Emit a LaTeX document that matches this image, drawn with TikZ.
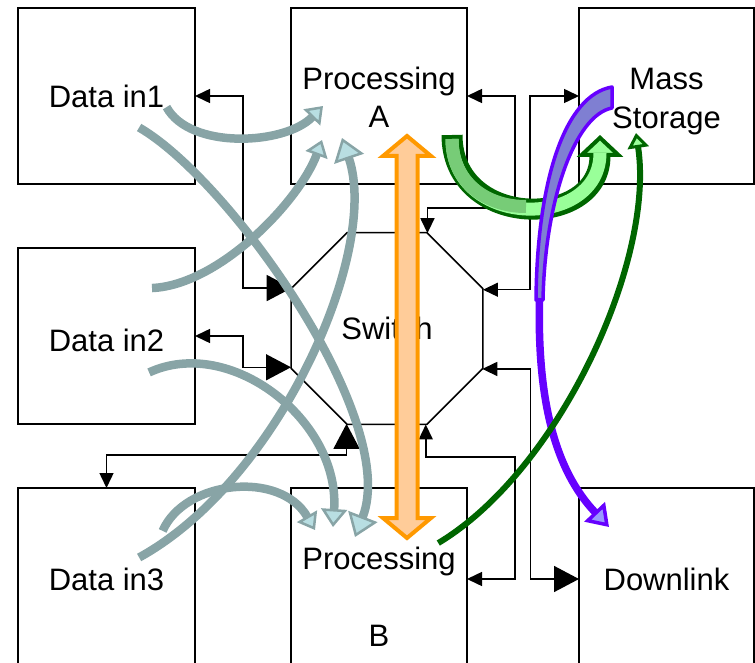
\documentclass[tikz,border=0pt]{standalone}
\usepackage{fontspec}
\setmainfont{Liberation Sans}
\usetikzlibrary{arrows.meta,shapes.geometric}
\definecolor{gout}{HTML}{88A4A6}
\definecolor{gin}{HTML}{B8DEE2}
\definecolor{gdk}{HTML}{006600}
\definecolor{gmid}{HTML}{77CC77}
\definecolor{glt}{HTML}{99FF99}
\definecolor{pur}{HTML}{6600FF}
\definecolor{purf}{HTML}{7F7FD2}
\definecolor{purl}{HTML}{9999FF}
\definecolor{orO}{HTML}{FF9900}
\definecolor{orF}{HTML}{FFCC99}
\tikzset{
  smtip/.tip={Triangle[length=15pt,width=14pt]},
  bigtip/.tip={Triangle[length=25pt,width=26pt]},
  box/.style={draw, line width=1.6pt, inner sep=0pt, outer sep=0pt, align=center,
    font=\fontsize{31}{38.5}\selectfont},
  conn/.style={line width=1.5pt},
  garr/.style 2 args={draw=gout, line width=8.5pt, shorten <=-1pt,
      -{Triangle[length=#1, width=#2, fill=gin, line width=2.5pt]}},
}
\begin{document}
\begin{tikzpicture}[x=1pt,y=-1pt]
\useasboundingbox (0,0) rectangle (755,663);
\clip (0,0) rectangle (755,663);
% boxes
\node[box, minimum width=177pt, minimum height=176pt] (d1) at (106.5,96) {Data in1};
\node[box, minimum width=177pt, minimum height=176pt, text height=31pt] (d2) at (106.5,336) {Data in2};
\node[box, minimum width=177pt, minimum height=182pt] (d3) at (106.5,579) {Data in3};
\node[box, minimum width=176pt, minimum height=176pt, text height=64pt] (pa) at (379,96) {Processing\\A};
\node[box, minimum width=176pt, minimum height=218pt] (pb) at (379,597) {Processing\\[38.5pt]B};
\node[box, minimum width=175pt, minimum height=176pt, text height=70.5pt] (ms) at (666.5,96) {Mass\\Storage};
\node[box, minimum width=175pt, minimum height=182pt] (dl) at (666.5,579) {Downlink};
% switch
\node[draw, line width=1.5pt, regular polygon, regular polygon sides=8, minimum size=207.8pt,
  inner sep=0pt, outer sep=0pt, font=\fontsize{31}{38.5}\selectfont] (sw) at (387,328.5) {Switch};
% connectors
\draw[conn, {smtip}-{bigtip}] (d1.east) -- ++(48,0) |- (sw.157.5);
\draw[conn, {smtip}-{bigtip}] (d2.east) -- ++(48,0) |- (sw.202.5);
\draw[conn, {bigtip}-{smtip}] (sw.247.5) -- ++(0,31) -| (d3.north);
\draw[conn, {smtip}-{smtip}] (pa.east) -- ++(48,0) -- ++(0,112) -| (sw.67.5);
\draw[conn, {smtip}-{smtip}] (ms.west) -- ++(-49,0) |- (sw.22.5);
\draw[conn, {smtip}-{bigtip}] (sw.337.5) -- ++(48,0) |- (dl.west);
\draw[conn, {smtip}-{smtip}] (pb.east |- dl.west) -- ++(48,0) -- ++(0,-122) -| (sw.292.5);
% gray curved arrows
\draw[garr={16pt}{23pt}] (167,108) .. controls (190,150) and (285,145) .. (323,106);
\draw[garr={22pt}{31pt}] (140,128) .. controls (230,180) and (400,420) .. (355,537);
\draw[garr={16pt}{23pt}] (153,288) .. controls (220,285) and (300,200) .. (322,140);
\draw[garr={22pt}{31pt}] (140,557) .. controls (280,480) and (380,250) .. (342,138);
\draw[garr={18pt}{26pt}] (150,372) .. controls (230,335) and (340,420) .. (333,527);
\draw[garr={16pt}{23pt}] (163,530) .. controls (185,480) and (280,470) .. (315,530);
% orange double arrow
\filldraw[draw=orO, fill=orF, line width=4pt] (407,136) -- (431,156) -- (417.5,156) -- (417.5,518)
  -- (431,518) -- (407,538) -- (383,518) -- (396.5,518) -- (396.5,156) -- (383,156) -- cycle;
% green U arrow
\path[preaction={draw=gdk, line width=21pt, shorten <=-4pt,
    -{Triangle[length=22pt,width=46pt,fill=glt,line width=4pt]}},
  postaction={draw=glt, line width=13pt, shorten >=18pt}]
  (452,139) .. controls (452,230) and (600,230) .. (600,135);
\draw[gmid, line width=13pt] (452,139) .. controls (452,184.5) and (489,206.75) .. (526,206.5);
% purple arrow
\filldraw[draw=pur, fill=purf, line width=3.5pt, line join=round]
  (612,87) .. controls (565,95) and (537,180) .. (536,300) -- (543,300)
  .. controls (545,200) and (575,115) .. (612,108) -- cycle;
\draw[pur, line width=7.5pt, -{Triangle[length=21pt,width=28pt,fill=purl,line width=3.5pt]}]
  (539.5,298) .. controls (537,400) and (555,470) .. (609,527);
% green long arrow
\draw[gdk, line width=6pt, shorten <=-2pt, -{Triangle[length=15pt,width=21pt,fill=glt,line width=3pt]}]
  (440,542) .. controls (560,470) and (655,260) .. (636,133);
\end{tikzpicture}
\end{document}
